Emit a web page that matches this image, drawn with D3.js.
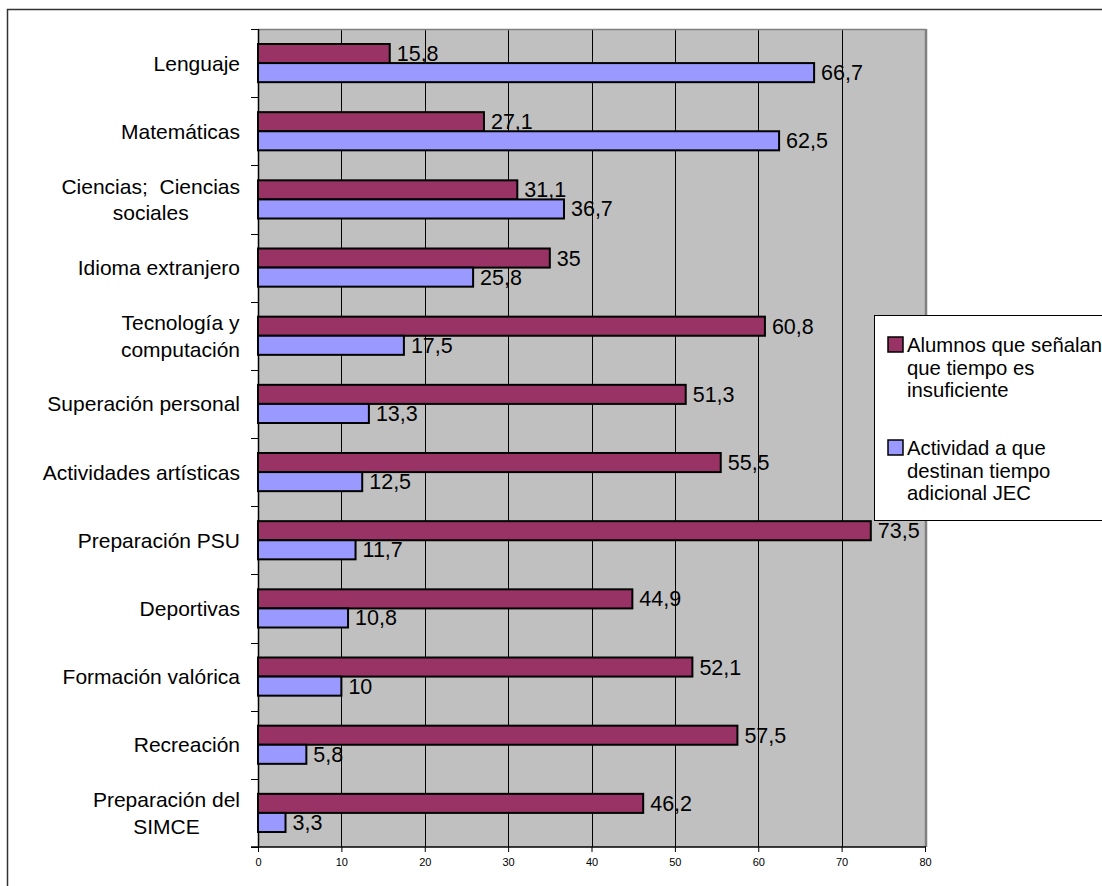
<!DOCTYPE html>
<html>
<head>
<meta charset="utf-8">
<script src="https://cdn.jsdelivr.net/npm/d3@7"></script>
<style>
  html, body { margin: 0; padding: 0; background: #fff; }
  svg { display: block; font-family: "Liberation Sans", Arial, sans-serif; }
  text { white-space: pre; }
</style>
</head>
<body>
<svg id="chart" width="1102" height="886"></svg>
<script>
// Categories (top to bottom); "\n" marks a line break in the axis label
const categories = [
  "Lenguaje",
  "Matemáticas",
  "Ciencias;  Ciencias\nsociales",
  "Idioma extranjero",
  "Tecnología y\ncomputación",
  "Superación personal",
  "Actividades artísticas",
  "Preparación PSU",
  "Deportivas",
  "Formación valórica",
  "Recreación",
  "Preparación del\nSIMCE"
];
const seriesNames = [
  "Alumnos que señalan\nque tiempo es\ninsuficiente",
  "Actividad a que\ndestinan tiempo\nadicional JEC"
];
const tiempoInsuficiente = [15.8, 27.1, 31.1, 35, 60.8, 51.3, 55.5, 73.5, 44.9, 52.1, 57.5, 46.2];
const tiempoAdicional    = [66.7, 62.5, 36.7, 25.8, 17.5, 13.3, 12.5, 11.7, 10.8, 10, 5.8, 3.3];
const xTicks = [0, 10, 20, 30, 40, 50, 60, 70, 80];
const seriesColors = ["#993366", "#9999FF"];

const svg = d3.select("#chart");
const plot = { left: 258, right: 925, top: 29, bottom: 847 };

// outer chart frame
svg.append("rect")
  .attr("x", 7.5).attr("y", 9.5)
  .attr("width", 1200).attr("height", 1000)
  .attr("fill", "#fff").attr("stroke", "#333").attr("stroke-width", 1.5);

const x = d3.scaleLinear().domain([0, 80]).range([plot.left, plot.right]);
const y0 = d3.scaleBand().domain(d3.range(categories.length)).range([plot.top, plot.bottom]);
const y1 = d3.scaleBand().domain([0, 1]).range([15, y0.bandwidth() - 15]);

// plot background
svg.append("rect")
  .attr("x", plot.left).attr("y", plot.top)
  .attr("width", plot.right - plot.left).attr("height", plot.bottom - plot.top)
  .attr("fill", "#C0C0C0");

// vertical gridlines
svg.append("g").selectAll("line")
  .data(xTicks.filter(t => t > 0 && t < 80))
  .join("line")
  .attr("x1", d => Math.round(x(d)) + 0.5).attr("x2", d => Math.round(x(d)) + 0.5)
  .attr("y1", plot.top).attr("y2", plot.bottom)
  .attr("stroke", "#000").attr("stroke-width", 1);

// plot frame: gray top and right edges
svg.append("line")
  .attr("x1", plot.left).attr("x2", plot.right + 1)
  .attr("y1", plot.top + 0.5).attr("y2", plot.top + 0.5)
  .attr("stroke", "#808080").attr("stroke-width", 1.5);
svg.append("line")
  .attr("x1", plot.right + 1).attr("x2", plot.right + 1)
  .attr("y1", plot.top).attr("y2", plot.bottom)
  .attr("stroke", "#808080").attr("stroke-width", 2.5);

// bottom axis
const xAxis = d3.axisBottom(x).tickValues(xTicks).tickSize(5).tickPadding(6).tickFormat(d3.format("d"));
const gx = svg.append("g").attr("transform", `translate(0,${plot.bottom})`).call(xAxis);
gx.select(".domain").attr("stroke", "#000").attr("stroke-width", 1.5)
  .attr("d", `M${plot.left - 7},0H${plot.right + 1}`);
gx.selectAll(".tick line").attr("stroke", "#000");
gx.selectAll(".tick text")
  .attr("font-family", "Liberation Sans, Arial, sans-serif")
  .attr("font-size", 11).attr("fill", "#000");

// left axis line and category ticks
svg.append("line")
  .attr("x1", plot.left + 0.5).attr("x2", plot.left + 0.5)
  .attr("y1", plot.top).attr("y2", plot.bottom)
  .attr("stroke", "#000").attr("stroke-width", 1.5);
svg.append("g").selectAll("line")
  .data(d3.range(categories.length + 1))
  .join("line")
  .attr("x1", plot.left - 7).attr("x2", plot.left)
  .attr("y1", d => Math.round(plot.top + d * y0.step()) + 0.5)
  .attr("y2", d => Math.round(plot.top + d * y0.step()) + 0.5)
  .attr("stroke", "#000").attr("stroke-width", 1);

// category labels: lines centered on each other, widest line right-aligned at the axis
const labelRight = 240;
const lineGap = 26.5;
categories.forEach((c, i) => {
  const lines = c.split("\n");
  const cy = y0(i) + y0.bandwidth() / 2;
  const g = svg.append("g");
  const texts = g.selectAll("text").data(lines).join("text")
    .attr("font-size", 21).attr("fill", "#000")
    .attr("text-anchor", "middle")
    .attr("y", (d, k) => cy + 7.5 + (k - (lines.length - 1) / 2) * lineGap)
    .text(d => d);
  let w = 0;
  texts.each(function () { w = Math.max(w, this.getComputedTextLength()); });
  texts.attr("x", labelRight - w / 2);
});

// bars
const seriesValues = [tiempoInsuficiente, tiempoAdicional];
const gBars = svg.append("g");
seriesValues.forEach((vals, s) => {
  gBars.selectAll(null).data(vals).join("rect")
    .attr("x", x(0))
    .attr("y", (d, i) => y0(i) + y1(s))
    .attr("width", d => x(d) - x(0))
    .attr("height", y1.bandwidth())
    .attr("fill", seriesColors[s])
    .attr("stroke", "#000").attr("stroke-width", 2);
});

// legend
const legend = svg.append("g");
legend.append("rect")
  .attr("x", 874.5).attr("y", 315.5).attr("width", 260).attr("height", 205)
  .attr("fill", "#fff").attr("stroke", "#000").attr("stroke-width", 1);
const legendTop = [337, 440];
seriesNames.forEach((name, s) => {
  legend.append("rect")
    .attr("x", 888).attr("y", legendTop[s]).attr("width", 15).attr("height", 15)
    .attr("fill", seriesColors[s]).attr("stroke", "#000").attr("stroke-width", 1.5);
  legend.selectAll(null).data(name.split("\n")).join("text")
    .attr("x", 907).attr("y", (d, k) => legendTop[s] + 15 + k * 22.5)
    .attr("font-size", 20.3).attr("fill", "#000")
    .text(d => d);
});

// value labels
const fmt = v => String(v).replace(".", ",");
const gLabels = svg.append("g");
seriesValues.forEach((vals, s) => {
  gLabels.selectAll(null).data(vals).join("text")
    .attr("x", d => x(d) + 7)
    .attr("y", (d, i) => y0(i) + y1(s) + y1.bandwidth() / 2 + 7.5)
    .attr("font-size", 21.5).attr("fill", "#000")
    .text(d => fmt(d));
});
</script>
</body>
</html>
